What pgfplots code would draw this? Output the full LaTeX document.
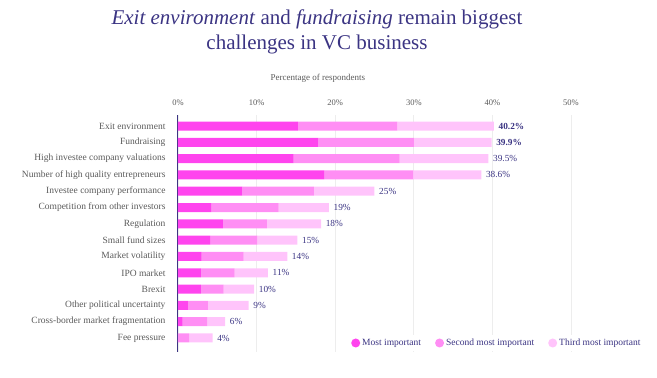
\documentclass[border=0pt]{standalone}
\usepackage{pgfplots}
\pgfplotsset{compat=1.18}
\usepackage{fontspec}
\setmainfont{Liberation Serif}
\definecolor{cA}{HTML}{FF44EE}
\definecolor{cB}{HTML}{FF8EF4}
\definecolor{cC}{HTML}{FFC4FB}
\definecolor{navy}{HTML}{3B3483}
\definecolor{lab}{HTML}{5A5A5A}
\pgfplotsset{geom/.style={at={(178pt,26pt)}, anchor=south west,
  width=393pt, height=237pt, scale only axis,
  xmin=0, xmax=50, ymin=-0.675, ymax=13.86, y dir=reverse, clip=false}}
\begin{document}
\begin{tikzpicture}
\useasboundingbox (0pt,0pt) rectangle (657pt,378pt);
\node[text=navy, font=\fontsize{21}{25}\selectfont, align=center, anchor=north] at (317pt,372pt)
 {\textit{Exit environment} and \textit{fundraising} remain biggest\\challenges in VC business};
\begin{axis}[
  geom,
  xbar stacked, bar width=9pt,
  axis x line*=top, axis y line*=left,
  x axis line style={draw=none},
  y axis line style={draw=navy, line width=1pt, -},
  xtick={0,10,20,30,40,50},
  xticklabels={0\%,10\%,20\%,30\%,40\%,50\%},
  xticklabel style={text=lab, font=\fontsize{8.5}{10}\selectfont, yshift=6pt},
  /pgf/number format/assume math mode=true,
  major tick length=0pt,
  xmajorgrids, grid style={draw=black!7, line width=0.6pt},
  ytick={0,...,13},
  yticklabels={Exit environment,Fundraising,High investee company valuations,Number of high quality entrepreneurs,Investee company performance,Competition from other investors,Regulation,Small fund sizes,Market volatility,IPO market,Brexit,Other political uncertainty,Cross-border market fragmentation,Fee pressure},
  yticklabel style={text=lab, font=\fontsize{9.5}{11}\selectfont, xshift=-9pt},
  legend style={at={(1.19,0.038)}, anchor=east, draw=none, fill=white, legend columns=3,
    font=\fontsize{9.5}{11}\selectfont, text=navy,
    /tikz/every even column/.append style={column sep=12pt}},
  legend cell align=left,
]
\addplot[draw=none, fill=cA, legend image code/.code={\fill[cA] (3pt,0pt) circle (4.5pt);}] coordinates {
(15.25,0) (17.85,1) (14.7,2) (18.6,3) (8.2,4) (4.2,5) (5.7,6) (4.1,7) (3.0,8) (2.9,9) (2.9,10) (1.25,11) (0.6,12) (0,13)};
\addlegendentry{Most important}
\addplot[draw=none, fill=cB, legend image code/.code={\fill[cB] (3pt,0pt) circle (4.5pt);}] coordinates {
(12.65,0) (12.15,1) (13.5,2) (11.3,3) (9.1,4) (8.6,5) (5.6,6) (6.0,7) (5.35,8) (4.3,9) (2.9,10) (2.55,11) (3.15,12) (1.4,13)};
\addlegendentry{Second most important}
\addplot[draw=none, fill=cC, legend image code/.code={\fill[cC] (3pt,0pt) circle (4.5pt);}] coordinates {
(12.3,0) (9.9,1) (11.3,2) (8.7,3) (7.7,4) (6.4,5) (6.9,6) (5.1,7) (5.55,8) (4.25,9) (3.9,10) (5.2,11) (2.25,12) (3.0,13)};
\addlegendentry{Third most important}
\node[text=lab, font=\fontsize{9}{10}\selectfont] at (axis cs:17.8,-2.95) {Percentage of respondents};
\end{axis}
\begin{axis}[geom, hide axis]
\addplot[only marks, mark=none, point meta=explicit symbolic, nodes near coords,
  every node near coord/.append style={anchor=west, text=navy, font=\fontsize{9.3}{11}\selectfont, inner sep=0pt, xshift=4.5pt}] coordinates {
(40.2,0) [\textbf{40.2\%}]
(39.9,1) [\textbf{39.9\%}]
(39.5,2) [39.5\%]
(38.6,3) [38.6\%]
(25.0,4) [25\%]
(19.2,5) [19\%]
(18.2,6) [18\%]
(15.2,7) [15\%]
(13.9,8) [14\%]
(11.45,9) [11\%]
(9.7,10) [10\%]
(9.0,11) [9\%]
(6.0,12) [6\%]
(4.4,13) [4\%]};
\end{axis}
\end{tikzpicture}
\end{document}
